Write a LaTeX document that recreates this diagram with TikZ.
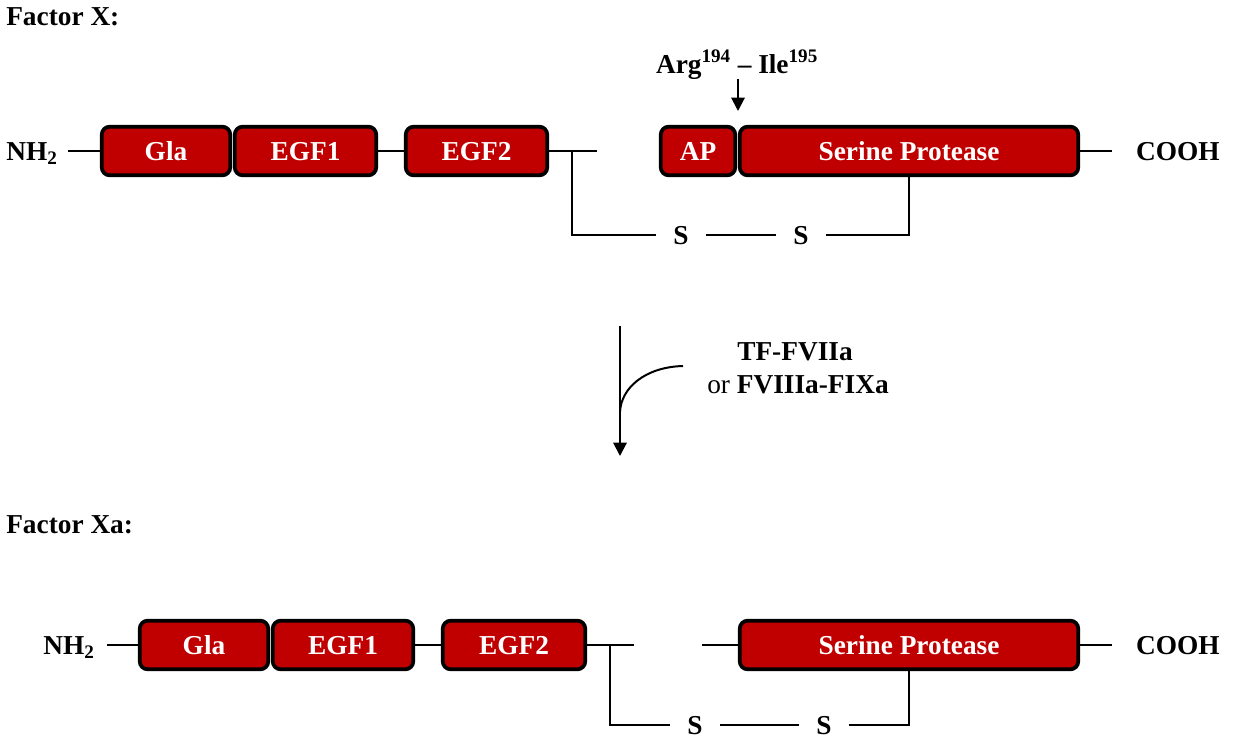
\documentclass[tikz,border=0pt]{standalone}
\usepackage{fontspec}
\setmainfont{Liberation Serif}
\usetikzlibrary{arrows.meta}
\definecolor{dred}{HTML}{C00000}
\begin{document}
\begin{tikzpicture}[x=0.75pt,y=-0.75pt,
  font=\fontsize{20.5}{24}\selectfont\bfseries,
  dom/.style={draw=black, line width=2.8pt, fill=dred, rounded corners=6pt, text=white,
    minimum height=36.5pt, minimum width=#1*0.75pt, inner sep=0pt, text height=13.5pt, text depth=0pt},
  lbl/.style={inner sep=0pt, text height=13.5pt, text depth=0pt},
  sb/.style={lbl, minimum width=37.5pt},
  ln/.style={line width=1.5pt},
  arr/.style={line width=1.5pt, -{Triangle[width=10pt,length=10pt]}}
]
\useasboundingbox (0,0) rectangle (1234,740);

% ---------- Factor X ----------
\node[lbl, anchor=base west] (fx) at (6,25) {Factor X:};

\node[dom=128.5] (gla1) at (166,151) {Gla};
\node[dom=141.5] (egfa1) at (305.5,151) {EGF1};
\node[dom=141.5] (egfb1) at (476.5,151) {EGF2};
\node[dom=74.5] (ap1) at (698,151) {AP};
\node[dom=338.5] (sp1) at (909,151) {Serine Protease};

\node[lbl, anchor=west] (nh1) at (6,151) {NH\textsubscript{2}};
\node[lbl, anchor=east] (cooh1) at (1220,151) {COOH};

\coordinate (nh1e) at (68,151);
\coordinate (egfe1) at (597,151);
\coordinate (br1) at (572,151);
\coordinate (cooe1) at (1112,151);

\draw[ln] (nh1e) -- (gla1.west);
\draw[ln] (egfa1.east) -- (egfb1.west);
\draw[ln] (egfb1.east) -- (egfe1);
\draw[ln] (sp1.east) -- (cooe1);

\node[sb] (s1) at (681,235) {S};
\node[sb] (s2) at (801,235) {S};
\draw[ln] (br1) |- (s1.west);
\draw[ln] (s1.east) -- (s2.west);
\draw[ln] (s2.east) -| (sp1.south);

\node[lbl, anchor=base] (arg) at (737,73) {Arg\textsuperscript{194} – Ile\textsuperscript{195}};
\coordinate (cut) at (738,111);
\coordinate (cuttop) at (738,79);
\draw[arr] (cuttop) -- (cut);

% ---------- activation ----------
\coordinate (m1) at (620,326);
\coordinate (m2) at (620,456);
\coordinate (cv) at (683,366);
\coordinate (cvend) at (620,412);
\draw[arr] (m1) -- (m2);
\draw[ln] (cv) .. controls (645,367) and (621,388) .. (cvend);
\node[lbl, anchor=base] (tf) at (795,360) {TF-FVIIa};
\node[lbl, anchor=base] (fv) at (798,393) {{\mdseries or} FVIIIa-FIXa};

% ---------- Factor Xa ----------
\node[lbl, anchor=base west] (fxa) at (6,533) {Factor Xa:};

\node[dom=128.5] (gla2) at (204,645) {Gla};
\node[dom=140.5] (egfa2) at (343,645) {EGF1};
\node[dom=142.5] (egfb2) at (514,645) {EGF2};
\node[dom=338.5] (sp2) at (909,645) {Serine Protease};

\node[lbl, anchor=west] (nh2) at (43,645) {NH\textsubscript{2}};
\node[lbl, anchor=east] (cooh2) at (1220,645) {COOH};

\coordinate (nh2e) at (107,645);
\coordinate (egfe2) at (634,645);
\coordinate (br2) at (610,645);
\coordinate (spl2) at (702,645);
\coordinate (cooe2) at (1112,645);

\draw[ln] (nh2e) -- (gla2.west);
\draw[ln] (egfa2.east) -- (egfb2.west);
\draw[ln] (egfb2.east) -- (egfe2);
\draw[ln] (spl2) -- (sp2.west);
\draw[ln] (sp2.east) -- (cooe2);

\node[sb] (s3) at (695,725) {S};
\node[sb] (s4) at (824,725) {S};
\draw[ln] (br2) |- (s3.west);
\draw[ln] (s3.east) -- (s4.west);
\draw[ln] (s4.east) -| (sp2.south);
\end{tikzpicture}
\end{document}
